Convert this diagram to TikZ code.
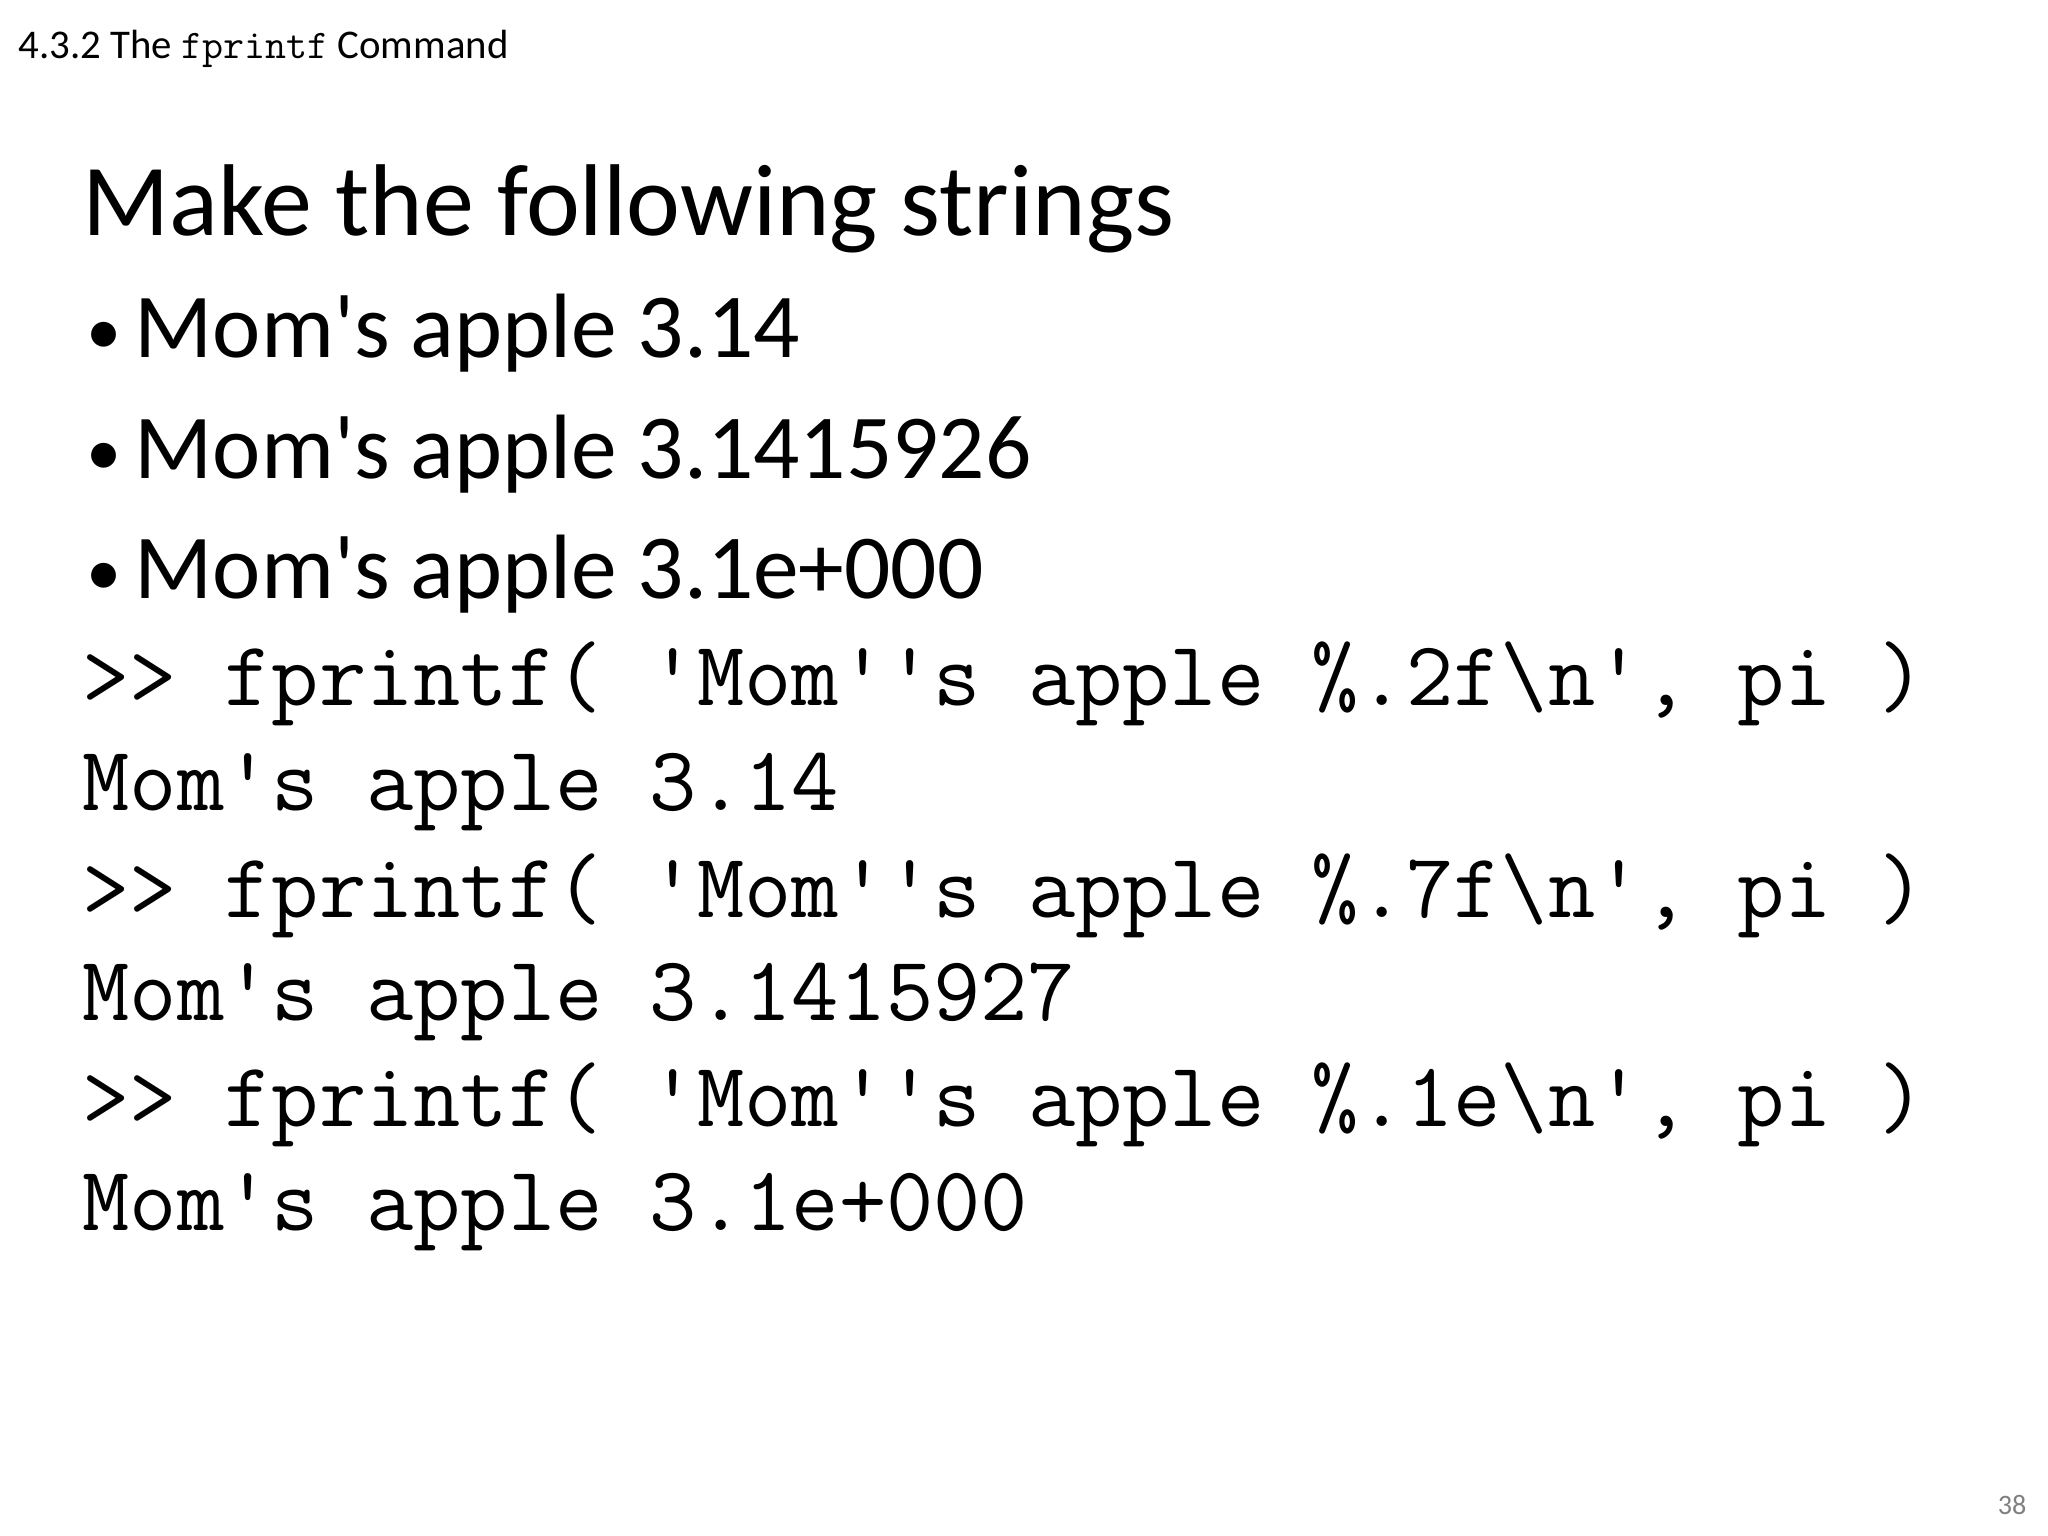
\documentclass[tikz,border=0pt]{standalone}
\usepackage{fontspec}
\setmainfont{Carlito}
\begin{document}
\begin{tikzpicture}[x=0.01cm,y=-0.01cm,
  hdr/.style={anchor=base west,inner sep=0pt,font=\fontsize{11.6}{14}\selectfont},
  ttl/.style={anchor=base west,inner sep=0pt,font=\fontsize{29}{35}\selectfont},
  bul/.style={anchor=base west,inner sep=0pt,font=\fontsize{26}{31}\selectfont},
  dot/.style={anchor=base west,inner sep=0pt,font=\fontsize{20}{24}\selectfont},
  code/.style={anchor=base west,inner sep=0pt,font=\ttfamily\fontsize{26.1}{30}\selectfont}]
\useasboundingbox[fill=white] (0,0) rectangle (2048,1536);
\node[hdr] (h) at (18,58) {4.3.2 The \texttt{fprintf} Command};
\node[ttl] (t) at (82,235) {Make the following strings};
\foreach \y/\s [count=\i] in {357/3.14,478/3.1415926,598/3.1e+000}{
  \node[dot] (bb\i) at (86,\y-3) {•};
  \node[bul] (b\i) at (134,\y) {Mom\textquotesingle s apple \s};
}
\node[code] (c1) at (82,705) {>> fprintf( 'Mom''s apple \%.2f\textbackslash n', pi )};
\node[code] (c2) at (82,810) {Mom's apple 3.14};
\node[code] (c3) at (82,917) {>> fprintf( 'Mom''s apple \%.7f\textbackslash n', pi )};
\node[code] (c4) at (82,1020) {Mom's apple 3.1415927};
\node[code] (c5) at (82,1126) {>> fprintf( 'Mom''s apple \%.1e\textbackslash n', pi )};
\node[code] (c6) at (82,1230) {Mom's apple 3.1e+000};
\node[anchor=base east,inner sep=0pt,text=gray,font=\fontsize{8}{10}\selectfont] (pg) at (2027,1514) {38};
\end{tikzpicture}
\end{document}
